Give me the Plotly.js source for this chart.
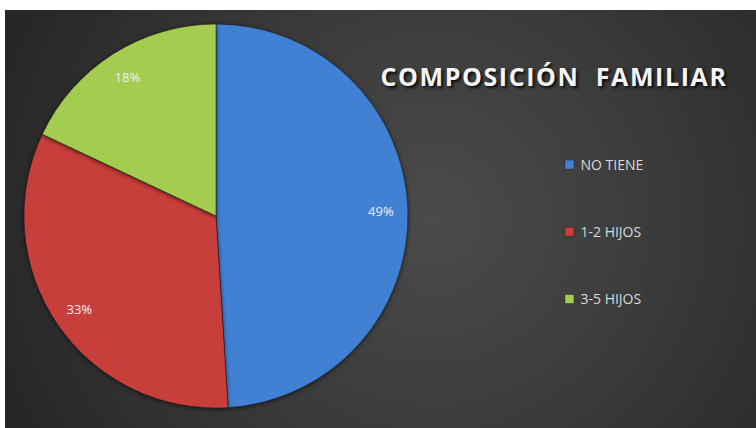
<!DOCTYPE html>
<html>
<head>
<meta charset="utf-8">
<script src="https://cdn.plot.ly/plotly-3.0.1.min.js"></script>
<style>
  html, body { margin: 0; padding: 0; background: #ffffff; width: 756px; height: 428px; overflow: hidden; }
  #chart {
    position: absolute; left: 5px; top: 10px; width: 751px; height: 418px;
    background: radial-gradient(ellipse 62% 110% at 57% 50%, #4b4b4b 0%, #3c3c3c 45%, #262626 100%);
  }
  #chart .pielayer .trace:first-child .slice path.surface { filter: drop-shadow(0px 1px 2px rgba(0,0,0,0.6)); }
  #chart .gtitle { letter-spacing: 1.6px; }
  #chart .legendtext { transform: translateX(-9px); }
</style>
</head>
<body>
<div id="chart"></div>
<script>
const categories = ["NO TIENE", "1-2 HIJOS", "3-5 HIJOS"];
const shares = [49, 33, 18];
const sliceColors = ["#4181d4", "#c83e3a", "#a4cc4e"];
const chartTitle = "COMPOSICIÓN&nbsp;&nbsp;FAMILIAR";

const pieDomain = { x: [0.0253, 0.5366], y: [0.0478, 0.9665] };

// the filled pie
const pieTrace = {
  type: "pie",
  labels: categories,
  values: shares,
  sort: false,
  direction: "clockwise",
  rotation: 0,
  marker: { colors: sliceColors, line: { color: "rgba(30,30,30,0.55)", width: 1 } },
  textinfo: "none",
  domain: pieDomain,
  showlegend: false,
  hoverinfo: "label+percent"
};

// same slices as a transparent ring, used only to place the percentage labels near the rim
const labelRing = {
  type: "pie",
  labels: categories,
  values: shares,
  sort: false,
  direction: "clockwise",
  rotation: 0,
  hole: 0.72,
  marker: { colors: ["rgba(0,0,0,0)", "rgba(0,0,0,0)", "rgba(0,0,0,0)"], line: { width: 0 } },
  texttemplate: "%{value}%",
  textposition: "inside",
  insidetextorientation: "horizontal",
  textfont: { family: "Open Sans, sans-serif", size: 13, color: "#f2f2f2" },
  domain: pieDomain,
  showlegend: false,
  hoverinfo: "skip"
};

// legend entries (one per category) so the legend can be spaced like the original
const legendTraces = categories.map((c, i) => ({
  type: "scatter",
  mode: "markers",
  x: [null], y: [null],
  name: c,
  legendgroup: "g" + i,
  marker: { symbol: "square", size: 9, color: sliceColors[i], line: { color: "rgba(0,0,0,0.3)", width: 1 } },
  showlegend: true,
  hoverinfo: "skip"
}));

const layout = {
  width: 751, height: 418,
  margin: { l: 0, r: 0, t: 0, b: 0 },
  paper_bgcolor: "rgba(0,0,0,0)",
  plot_bgcolor: "rgba(0,0,0,0)",
  xaxis: { visible: false, domain: [0.9, 1] },
  yaxis: { visible: false, domain: [0.9, 1] },
  title: {
    text: chartTitle,
    x: 0.731, xanchor: "center", xref: "paper",
    y: 1 - 67 / 418, yanchor: "middle", yref: "paper",
    font: { family: "Open Sans, sans-serif", size: 25, color: "#f4f4f4", weight: "bold",
            shadow: "2px 2px 3px rgba(0,0,0,0.85)" }
  },
  showlegend: true,
  legend: {
    x: 0.725, xanchor: "left",
    y: 1 - 139 / 418, yanchor: "top",
    tracegroupgap: 46,
    bgcolor: "rgba(0,0,0,0)",
    font: { family: "Open Sans, sans-serif", size: 14, color: "#d9d9d9" },
    itemclick: false, itemdoubleclick: false
  }
};

Plotly.newPlot("chart", [pieTrace, labelRing].concat(legendTraces), layout, { displayModeBar: false, staticPlot: true });
</script>
</body>
</html>
